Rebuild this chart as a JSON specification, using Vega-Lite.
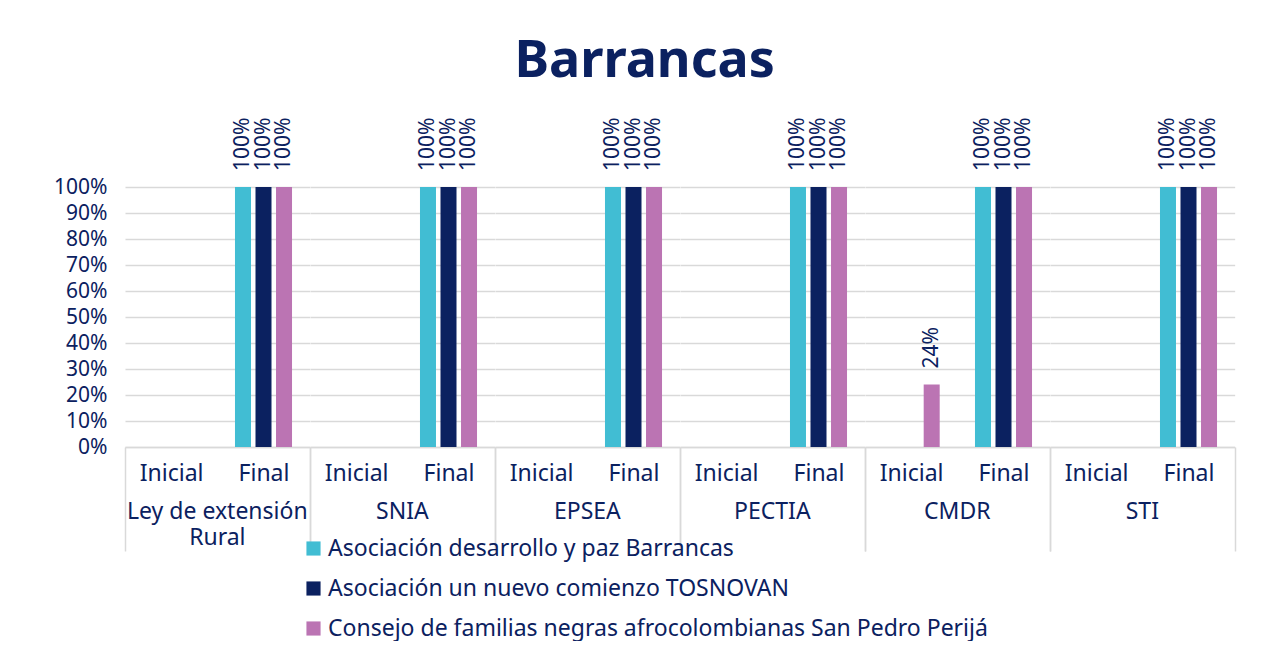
{
  "$schema": "https://vega.github.io/schema/vega-lite/v6.json",
  "background": "white",
  "padding": {"left": 53, "top": 34, "right": 24, "bottom": 0},
  "title": {"text": "Barrancas", "fontSize": 52, "font": "Noto Sans", "fontWeight": "bold", "color": "#0B2160", "anchor": "middle", "offset": 30},
  "data": {"values": [
    {"group": "Ley de extensión Rural", "phase": "Final", "series": "Asociación desarrollo y paz Barrancas", "value": 1},
    {"group": "Ley de extensión Rural", "phase": "Final", "series": "Asociación un nuevo comienzo TOSNOVAN", "value": 1},
    {"group": "Ley de extensión Rural", "phase": "Final", "series": "Consejo de familias negras afrocolombianas San Pedro Perijá", "value": 1},
    {"group": "SNIA", "phase": "Final", "series": "Asociación desarrollo y paz Barrancas", "value": 1},
    {"group": "SNIA", "phase": "Final", "series": "Asociación un nuevo comienzo TOSNOVAN", "value": 1},
    {"group": "SNIA", "phase": "Final", "series": "Consejo de familias negras afrocolombianas San Pedro Perijá", "value": 1},
    {"group": "EPSEA", "phase": "Final", "series": "Asociación desarrollo y paz Barrancas", "value": 1},
    {"group": "EPSEA", "phase": "Final", "series": "Asociación un nuevo comienzo TOSNOVAN", "value": 1},
    {"group": "EPSEA", "phase": "Final", "series": "Consejo de familias negras afrocolombianas San Pedro Perijá", "value": 1},
    {"group": "PECTIA", "phase": "Final", "series": "Asociación desarrollo y paz Barrancas", "value": 1},
    {"group": "PECTIA", "phase": "Final", "series": "Asociación un nuevo comienzo TOSNOVAN", "value": 1},
    {"group": "PECTIA", "phase": "Final", "series": "Consejo de familias negras afrocolombianas San Pedro Perijá", "value": 1},
    {"group": "CMDR", "phase": "Inicial", "series": "Consejo de familias negras afrocolombianas San Pedro Perijá", "value": 0.24},
    {"group": "CMDR", "phase": "Final", "series": "Asociación desarrollo y paz Barrancas", "value": 1},
    {"group": "CMDR", "phase": "Final", "series": "Asociación un nuevo comienzo TOSNOVAN", "value": 1},
    {"group": "CMDR", "phase": "Final", "series": "Consejo de familias negras afrocolombianas San Pedro Perijá", "value": 1},
    {"group": "STI", "phase": "Final", "series": "Asociación desarrollo y paz Barrancas", "value": 1},
    {"group": "STI", "phase": "Final", "series": "Asociación un nuevo comienzo TOSNOVAN", "value": 1},
    {"group": "STI", "phase": "Final", "series": "Consejo de familias negras afrocolombianas San Pedro Perijá", "value": 1}
  ]},
  "facet": {
    "column": {
      "field": "group", "type": "nominal",
      "sort": ["Ley de extensión Rural", "SNIA", "EPSEA", "PECTIA", "CMDR", "STI"],
      "header": {
        "title": null, "labelOrient": "bottom", "labelFontSize": 23, "labelFont": "Noto Sans",
        "labelColor": "#0B2160", "labelPadding": -51, "labelLineHeight": 26,
        "labelExpr": "datum.value == 'Ley de extensión Rural' ? ['Ley de extensión', 'Rural'] : datum.value"
      }
    }
  },
  "spacing": 0,
  "spec": {
    "width": 184.67,
    "height": 260,
    "encoding": {
      "x": {
        "field": "phase", "type": "nominal",
        "scale": {"domain": ["Inicial", "Final"], "paddingInner": 0, "paddingOuter": 0},
        "axis": {
          "title": null, "labelAngle": 0, "labelFontSize": 23, "labelFont": "Noto Sans", "labelColor": "#0B2160",
          "domainColor": "#D9D9D9", "domainWidth": 1.5,
          "tickBand": "extent", "tickSize": 104, "tickWidth": 1.5,
          "tickColor": {"condition": {"test": "datum.value === 'Inicial'", "value": "transparent"}, "value": "#D9D9D9"},
          "labelPadding": -89, "labelBaseline": "top"
        }
      },
      "xOffset": {
        "field": "series", "type": "nominal",
        "scale": {"paddingInner": 0.22, "paddingOuter": 0.86}
      },
      "y": {
        "field": "value", "type": "quantitative",
        "scale": {"domain": [0, 1], "nice": false},
        "axis": {
          "title": null, "format": ".0%", "values": [0, 0.1, 0.2, 0.3, 0.4, 0.5, 0.6, 0.7, 0.8, 0.9, 1],
          "domain": false, "ticks": false, "labelFontSize": 21, "labelFont": "Noto Sans", "labelColor": "#0B2160",
          "labelPadding": 18, "gridColor": "#D9D9D9", "gridWidth": 1.5
        }
      }
    },
    "layer": [
      {
        "mark": {"type": "bar"},
        "encoding": {
          "color": {
            "field": "series", "type": "nominal",
            "scale": {
              "domain": ["Asociación desarrollo y paz Barrancas", "Asociación un nuevo comienzo TOSNOVAN", "Consejo de familias negras afrocolombianas San Pedro Perijá"],
              "range": ["#41BDD3", "#0B2160", "#BB74B3"]
            },
            "legend": {
              "title": null, "orient": "none", "legendX": 177, "legendY": 350, "direction": "vertical",
              "symbolType": "square", "symbolSize": 200, "labelFontSize": 23, "labelFont": "Noto Sans",
              "labelColor": "#0B2160", "rowPadding": 16, "labelOffset": 3, "labelLimit": 900
            }
          }
        }
      },
      {
        "mark": {"type": "text", "angle": 270, "align": "left", "baseline": "middle", "dx": 16, "fontSize": 21, "font": "Noto Sans", "color": "#0B2160"},
        "encoding": {
          "text": {"field": "value", "type": "quantitative", "format": ".0%"}
        }
      }
    ]
  },
  "config": {"view": {"stroke": null}}
}
